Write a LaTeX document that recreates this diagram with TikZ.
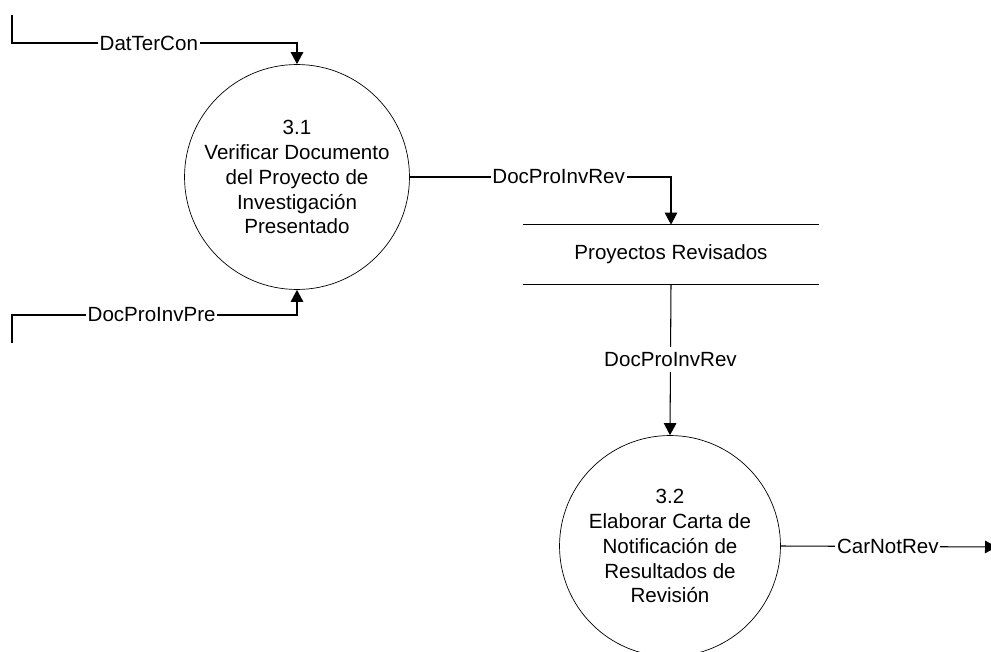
\documentclass[tikz,border=0pt]{standalone}
\usepackage{fontspec}
\setmainfont{Liberation Sans}
\usetikzlibrary{positioning,arrows.meta}

\begin{document}
\begin{tikzpicture}[
		x=0.02cm, y=-0.02cm,
		proc/.style={
			draw,
			circle,
			inner sep=0pt,
			align=center,
			font=\fontsize{11.7}{14.2}\selectfont
		},
		store/.style={
			align=center,
			minimum width=5.92cm,
			minimum height=1.18cm,
			font=\fontsize{11.7}{14.2}\selectfont
		},
		lbl/.style={
			fill=white,
			inner sep=1pt,
			font=\fontsize{11.7}{14.2}\selectfont
		},
		flow/.style={-{Triangle[length=2.4mm,width=2.5mm]}, line width=0.6pt}
		]
		\useasboundingbox (0,0) rectangle (991,652);
		
		% Processes
		\node[proc, minimum size=4.5cm] (verif) at (297,177) {
			3.1\\
			Verificar Documento\\
			del Proyecto de\\
			Investigación\\
			Presentado
		};
		
		\node[proc, minimum size=4.42cm] (carta) at (670,546) {
			3.2\\
			Elaborar Carta de\\
			Notificación de\\
			Resultados de\\
			Revisión
		};
		
		% Data store
		\node[store] (revis) at (671,254.5) {Proyectos Revisados};
		\draw[line width=0.6pt] (revis.north west) -- (revis.north east);
		\draw[line width=0.6pt] (revis.south west) -- (revis.south east);
		
		% Free ends
		\coordinate (dtin) at (12,15);
		\coordinate (dpin) at (12,343);
		\coordinate (crout) at (997,547);
		
		% Flows
		\draw[flow] (dtin) -- ++(0,28) -| node[pos=0.24, lbl] {DatTerCon} (verif.north);
		\draw[flow] (dpin) -- ++(0,-28) -| node[pos=0.245, lbl] {DocProInvPre} (verif.south);
		\draw[flow] (verif.east) -| node[pos=0.285, lbl] {DocProInvRev} (revis.north);
		\draw[flow] (revis.south) -- node[lbl, inner sep=3pt] {DocProInvRev} (carta.north);
		\draw[flow] (carta.east) -- node[pos=0.495, lbl] {CarNotRev} (crout);
		
	\end{tikzpicture}
\end{document}
